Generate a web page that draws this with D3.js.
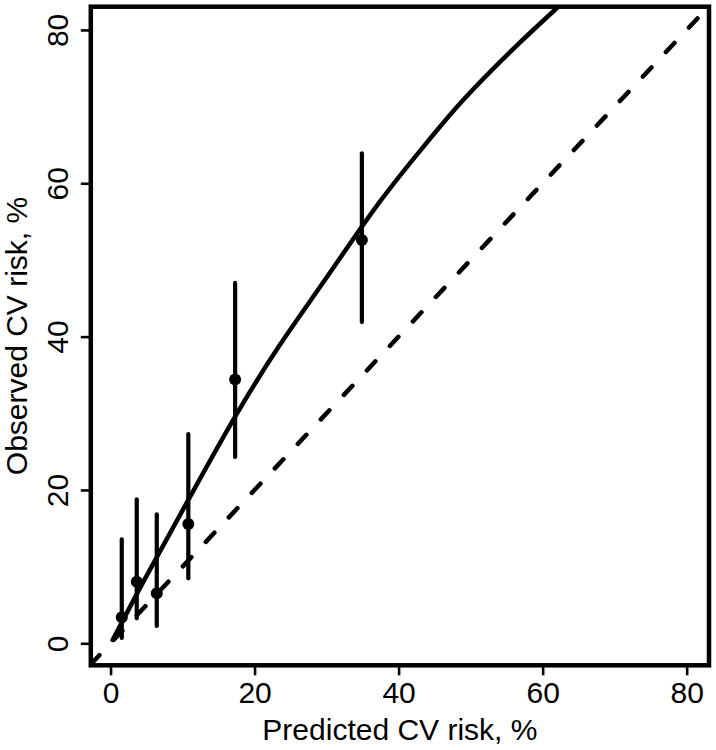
<!DOCTYPE html>
<html>
<head>
<meta charset="utf-8">
<script src="https://cdn.jsdelivr.net/npm/d3@7/dist/d3.min.js"></script>
<style>
  html, body { margin: 0; padding: 0; background: #fff; }
  svg text { font-family: "Liberation Sans", Arial, Helvetica, sans-serif; fill: #000; }
</style>
</head>
<body>
<svg id="chart" width="716" height="750"></svg>
<script>
// ---- data ----
const predicted = [1.56, 3.64, 6.42, 10.8, 17.3, 34.9];
const observed  = [3.39, 8.03, 6.52, 15.56, 34.4, 52.6];
const ciLower   = [0.69, 3.26, 2.26, 8.48, 24.3, 41.9];
const ciUpper   = [13.56, 18.78, 16.83, 27.3, 47.0, 63.9];

// smoothed calibration curve
const curveX = [0.3, 5, 10.8, 17.2, 23.5, 30, 37.4, 44, 49, 56, 62.15, 65];
const curveY = [0.43, 8.8, 18.7, 29.4, 38.9, 47.7, 57.6, 65.4, 70.9, 77.6, 83.0, 85.5];

// identity (perfect calibration) line endpoints
const identity = [-2.74, 83.1];

const xTicks = [0, 20, 40, 60, 80];
const yTicks = [0, 20, 40, 60, 80];
const xLabel = "Predicted CV risk, %";
const yLabel = "Observed CV risk, %";

// ---- layout ----
const pLeft = 90.8, pRight = 709, pTop = 6.7, pBottom = 665.3;
const svg = d3.select("#chart");

const x = d3.scaleLinear().domain([-2.74, 83.1]).range([pLeft, pRight]);
const y = d3.scaleLinear().domain([-2.87, 83.03]).range([pBottom, pTop]);

svg.append("defs").append("clipPath").attr("id", "plotclip")
  .append("rect").attr("x", pLeft).attr("y", pTop)
  .attr("width", pRight - pLeft).attr("height", pBottom - pTop);

const plot = svg.append("g").attr("clip-path", "url(#plotclip)");

// identity dashed line
plot.append("line")
  .attr("x1", x(identity[0])).attr("y1", y(identity[0]))
  .attr("x2", x(identity[1])).attr("y2", y(identity[1]))
  .attr("stroke", "#000").attr("stroke-width", 4.5)
  .attr("stroke-dasharray", "12.5,21.1")
  .attr("stroke-linecap", "round");

// smoothed curve
const curveData = curveX.map((d, i) => [d, curveY[i]]);
plot.append("path")
  .datum(curveData)
  .attr("d", d3.line().x(d => x(d[0])).y(d => y(d[1])).curve(d3.curveNatural))
  .attr("fill", "none").attr("stroke", "#000").attr("stroke-width", 4.5)
  .attr("stroke-linecap", "round");

// error bars
const pts = predicted.map((d, i) => ({x: d, y: observed[i], lo: ciLower[i], hi: ciUpper[i]}));
plot.selectAll("line.err").data(pts).enter().append("line")
  .attr("class", "err")
  .attr("x1", d => x(d.x)).attr("x2", d => x(d.x))
  .attr("y1", d => y(d.lo)).attr("y2", d => y(d.hi))
  .attr("stroke", "#000").attr("stroke-width", 4.2)
  .attr("stroke-linecap", "round");

plot.selectAll("circle.pt").data(pts).enter().append("circle")
  .attr("class", "pt")
  .attr("cx", d => x(d.x)).attr("cy", d => y(d.y)).attr("r", 6)
  .attr("fill", "#000");

// frame
svg.append("rect").attr("x", pLeft).attr("y", pTop)
  .attr("width", pRight - pLeft).attr("height", pBottom - pTop)
  .attr("fill", "none").attr("stroke", "#000").attr("stroke-width", 4.5);

// x axis
const xAxis = d3.axisBottom(x).tickValues(xTicks).tickSize(10).tickPadding(4).tickFormat(d3.format("d"));
const gx = svg.append("g").attr("transform", `translate(0,${pBottom})`).call(xAxis);
gx.select(".domain").remove();
gx.selectAll(".tick line").attr("stroke", "#000").attr("stroke-width", 2.6);
gx.selectAll(".tick text").attr("font-size", 30).attr("dy", null).attr("y", 38)
  .attr("font-family", "Liberation Sans, Arial, sans-serif");

// y axis
const yAxis = d3.axisLeft(y).tickValues(yTicks).tickSize(10).tickFormat(d3.format("d"));
const gy = svg.append("g").attr("transform", `translate(${pLeft},0)`).call(yAxis);
gy.select(".domain").remove();
gy.selectAll(".tick line").attr("stroke", "#000").attr("stroke-width", 2.6);
gy.selectAll(".tick text")
  .attr("font-size", 30)
  .attr("font-family", "Liberation Sans, Arial, sans-serif")
  .attr("x", null).attr("dy", null)
  .attr("text-anchor", "middle")
  .attr("transform", "translate(-22.5,0) rotate(-90)");

// axis titles
svg.append("text")
  .attr("x", (pLeft + pRight) / 2).attr("y", 740)
  .attr("text-anchor", "middle").attr("font-size", 30)
  .text(xLabel);

svg.append("text")
  .attr("transform", `translate(26.5,${(pTop + pBottom) / 2}) rotate(-90)`)
  .attr("text-anchor", "middle").attr("font-size", 30)
  .text(yLabel);
</script>
</body>
</html>
